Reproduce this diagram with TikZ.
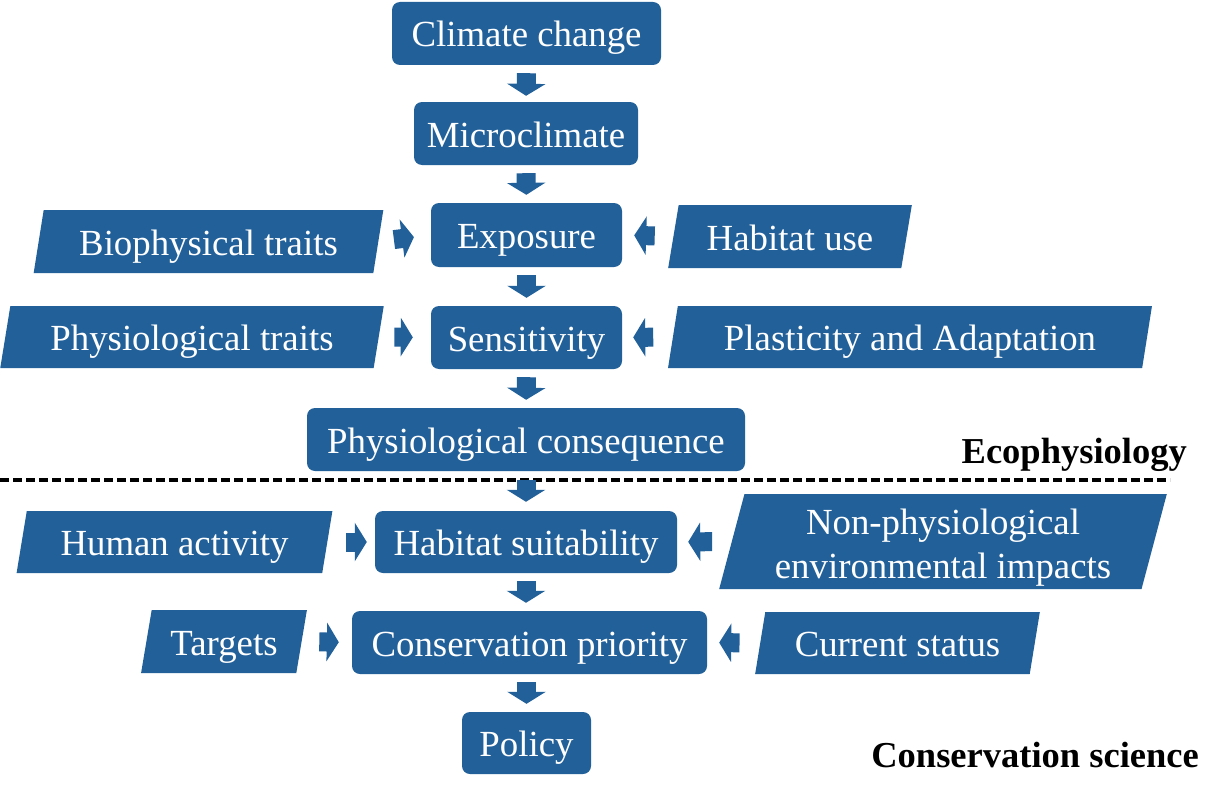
\documentclass[tikz,border=0pt]{standalone}
\usepackage{fontspec}
\setmainfont{Liberation Serif}
\usetikzlibrary{shapes.geometric, arrows.meta}
\definecolor{flowblue}{RGB}{34,96,154}

\begin{document}
\begin{tikzpicture}[x=1pt, y=-1pt,
  mainbox/.style={fill=flowblue, text=white, rounded corners=8pt, inner sep=0pt,
    text height=30pt, text depth=3pt, font=\fontsize{36.8}{44}\selectfont},
  inbox/.style={trapezium, trapezium left angle=76.6, trapezium right angle=103.4,
    trapezium stretches=true, fill=flowblue, text=white, inner sep=0pt, align=center,
    text height=30pt, text depth=3pt, font=\fontsize{36.8}{44}\selectfont},
  blk/.style={draw=flowblue, line width=19pt, -{Triangle[width=38pt, length=12pt]},
    shorten <=8pt, shorten >=8pt},
  lbl/.style={font=\fontsize{36.5}{40}\selectfont\bfseries, anchor=base east, inner sep=0pt}]
\useasboundingbox (0,0) rectangle (1224,800);

% separator between the two fields
\draw[line width=3.5pt, dash pattern=on 9pt off 4pt] (0,480) -- (1170,480);

% main chain
\node[mainbox, minimum width=269pt, minimum height=63pt] (climate) at (526.5,33.5) {Climate change};
\node[mainbox, minimum width=224pt, minimum height=63pt] (micro) at (526,133.5) {Microclimate};
\node[mainbox, minimum width=191pt, minimum height=64pt] (expo) at (526.5,235) {Exposure};
\node[mainbox, minimum width=191pt, minimum height=63pt] (sens) at (526.5,337.5) {Sensitivity};
\node[mainbox, minimum width=438pt, minimum height=63pt] (physcons) at (526,439.5) {Physiological consequence};
\node[mainbox, minimum width=302pt, minimum height=62pt] (habsuit) at (526,542) {Habitat suitability};
\node[mainbox, minimum width=355pt, minimum height=63pt] (conspri) at (529.5,642.5) {Conservation priority};
\node[mainbox, minimum width=129pt, minimum height=62pt] (policy) at (526.5,743) {Policy};

% side inputs
\node[inbox, minimum width=351pt, minimum height=63pt] (biotr) at (208.5,241.5) {Biophysical traits};
\node[inbox, minimum width=384pt, minimum height=62pt] (phystr) at (192,337) {Physiological traits};
\node[inbox, minimum width=244pt, minimum height=63pt] (habuse) at (790,236.5) {Habitat use};
\node[inbox, minimum width=484pt, minimum height=62pt] (plast) at (910,337) {Plasticity and Adaptation};
\node[inbox, minimum width=317pt, minimum height=62pt] (human) at (174.5,542) {Human activity};
\node[inbox, minimum width=450pt, minimum height=95pt, text height={}, text depth={}] (nonphys) at (943,541.5)
  {\rule{0pt}{38pt}Non-physiological\\environmental impacts};
\node[inbox, minimum width=166pt, minimum height=63pt] (targets) at (224,641.5) {Targets};
\node[inbox, minimum width=285pt, minimum height=62pt] (curstat) at (897.5,643) {Current status};

% field labels
\node[lbl] (ecophys) at (1187,463) {Ecophysiology};
\node[lbl] (consci) at (1199,767) {Conservation science};

% block arrows down the chain
\draw[blk, shorten >=6pt] (climate.south) -- (micro.north);
\draw[blk] (micro.south) -- (expo.north);
\draw[blk] (expo.south) -- (sens.north);
\draw[blk] (sens.south) -- (physcons.north);
\draw[blk, shorten <=9pt, shorten >=9pt] (physcons.south) -- (habsuit.north);
\draw[blk] (habsuit.south) -- (habsuit.south |- conspri.north);
\draw[blk] (policy.north |- conspri.south) -- (policy.north);

% block arrows from the side inputs
\draw[blk, shorten <=15.5pt, shorten >=17pt] (biotr.right side) -- (expo.west);
\draw[blk, shorten <=15.5pt, shorten >=18pt] (phystr.right side) -- (sens.west);
\draw[blk, shorten <=18.5pt, shorten >=12pt] (habuse.left side) -- (expo.east);
\draw[blk, shorten <=19.5pt, shorten >=11pt] (plast.left side) -- (sens.east);
\draw[blk, shorten <=18.5pt, shorten >=8pt] (human.right side) -- (habsuit.west);
\draw[blk, shorten <=19.5pt, shorten >=11pt] (nonphys.left side) -- (habsuit.east);
\draw[blk, shorten <=17.5pt, shorten >=13pt] (targets.right side) -- (conspri.west);
\draw[blk, shorten <=20.5pt, shorten >=12pt] (curstat.left side) -- (conspri.east);
\end{tikzpicture}
\end{document}
